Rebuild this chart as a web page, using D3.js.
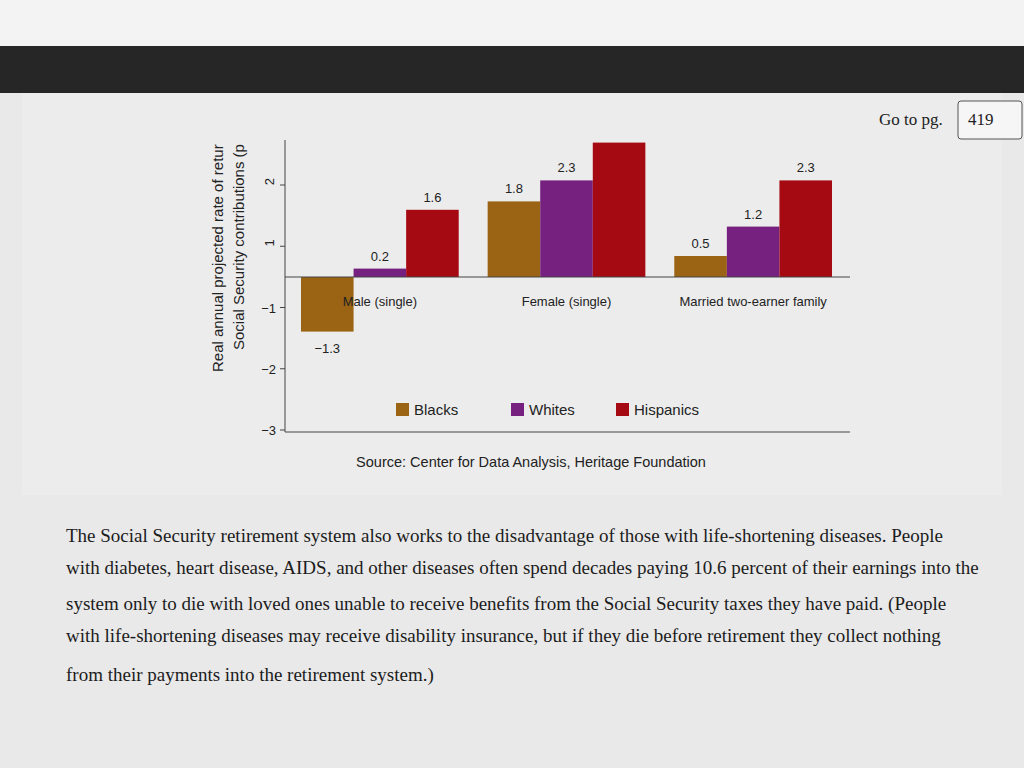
<!DOCTYPE html>
<html><head><meta charset="utf-8">
<script src="https://cdn.jsdelivr.net/npm/d3@7/dist/d3.min.js"></script>
<style>body{margin:0;background:#ededed;overflow:hidden}</style>
</head><body>
<svg id="c" width="1024" height="768"></svg>
<script>
const groups = ["Male (single)", "Female (single)", "Married two-earner family"];
const series = ["Blacks", "Whites", "Hispanics"];
const blacks = [-1.3, 1.8, 0.5];
const whites = [0.2, 2.3, 1.2];
const hispanics = [1.6, 3.2, 2.3];
const labelsShown = [[true,true,true],[true,true,false],[true,true,true]];
const tickLabels = ["2", "1", "\u22121", "\u22122", "\u22123"];
const colors = ["#9b6414", "#76217f", "#a50a12"];
const paragraph = [
 "The Social Security retirement system also works to the disadvantage of those with life-shortening diseases. People",
 "with diabetes, heart disease, AIDS, and other diseases often spend decades paying 10.6 percent of their earnings into the",
 "system only to die with loved ones unable to receive benefits from the Social Security taxes they have paid. (People",
 "with life-shortening diseases may receive disability insurance, but if they die before retirement they collect nothing",
 "from their payments into the retirement system.)"];

const svg = d3.select("#c");
svg.append("rect").attr("width",1024).attr("height",46).attr("fill","#f3f3f3");
svg.append("rect").attr("y",46).attr("width",1024).attr("height",47).attr("fill","#262626");
svg.append("rect").attr("y",93).attr("width",1024).attr("height",675).attr("fill","#e9e9e9");
svg.append("rect").attr("x",22).attr("y",93).attr("width",980).attr("height",402).attr("fill","#ececec");
svg.append("text").attr("x",879).attr("y",125).attr("font-family","Liberation Serif").attr("font-size",17).attr("fill","#222").text("Go to pg.");
svg.append("rect").attr("x",958).attr("y",101).attr("width",64).attr("height",38).attr("rx",3).attr("fill","#f6f6f6").attr("stroke","#555");
svg.append("text").attr("x",968).attr("y",125).attr("font-family","Liberation Serif").attr("font-size",17).attr("fill","#222").text("419");

const sans = "Liberation Sans, Arial, sans-serif";
const x0 = d3.scaleBand().domain(groups).range([301, 832]).paddingInner(0.155).paddingOuter(0);
const x1 = d3.scaleBand().domain(series).range([0, x0.bandwidth()]);
const y = d3.scaleLinear().domain([0, 1]).range([277, 235]);
const yt = d3.scalePoint().domain(tickLabels).range([185, 430]);
const g = svg.append("g");

g.append("line").attr("x1",285).attr("x2",285).attr("y1",140).attr("y2",432).attr("stroke","#444");
tickLabels.forEach((t,i)=>{
  g.append("line").attr("x1",280).attr("x2",285).attr("y1",yt(t)).attr("y2",yt(t)).attr("stroke","#444");
  const tx = g.append("text").attr("x",276).attr("y",yt(t)+5).attr("text-anchor","end").attr("font-family",sans).attr("font-size",13).attr("fill","#222").text(t);
  if (i < 2) tx.attr("transform",`rotate(-90,269,${yt(t)})`);
});
g.append("line").attr("x1",285).attr("x2",850).attr("y1",432).attr("y2",432).attr("stroke","#444");

const vals = [blacks, whites, hispanics];
groups.forEach((gr, gi) => {
  series.forEach((s, si) => {
    const v = vals[si][gi];
    const xx = x0(gr) + x1(s);
    g.append("rect").attr("x", xx).attr("width", x1.bandwidth())
      .attr("y", Math.min(y(v), y(0))).attr("height", Math.abs(y(v) - y(0)))
      .attr("fill", colors[si]);
    if (labelsShown[gi][si]) {
      g.append("text").attr("x", xx + x1.bandwidth()/2)
        .attr("y", v >= 0 ? y(v) - 8 : y(v) + 21)
        .attr("text-anchor","middle").attr("font-family",sans).attr("font-size",13).attr("fill","#222").text(v < 0 ? "\u2212" + Math.abs(v) : v);
    }
  });
  g.append("text").attr("x", x0(gr) + x0.bandwidth()/2).attr("y", 306).attr("text-anchor","middle")
    .attr("font-family",sans).attr("font-size",13).attr("fill","#222").text(gr);
});
g.append("line").attr("x1",285).attr("x2",850).attr("y1",y(0)).attr("y2",y(0)).attr("stroke","#444");

const cp = svg.append("clipPath").attr("id","yc");
cp.append("rect").attr("x",200).attr("y",144).attr("width",60).attr("height",240);
const yl = svg.append("g").attr("clip-path","url(#yc)");
yl.append("text").attr("transform","translate(223,372) rotate(-90)").attr("font-family",sans).attr("font-size",15).attr("fill","#222").text("Real annual projected rate of return on");
yl.append("text").attr("transform","translate(244,350) rotate(-90)").attr("font-family",sans).attr("font-size",15).attr("fill","#222").text("Social Security contributions (percent)");

const lx = [396, 511, 616];
series.forEach((s, i) => {
  svg.append("rect").attr("x", lx[i]).attr("y", 403).attr("width", 13).attr("height", 13).attr("fill", colors[i]);
  svg.append("text").attr("x", lx[i] + 18).attr("y", 415).attr("font-family",sans).attr("font-size",15).attr("fill","#222").text(s);
});
svg.append("text").attr("x",531).attr("y",467).attr("text-anchor","middle").attr("font-family",sans).attr("font-size",14.5).attr("fill","#222").text("Source: Center for Data Analysis, Heritage Foundation");

const ly = [542, 574, 610, 642, 681];
paragraph.forEach((p, i) => {
  svg.append("text").attr("x",66).attr("y",ly[i]).attr("font-family","Liberation Serif, serif").attr("font-size",19).attr("fill","#1c1c1c").text(p);
});
</script>
</body></html>
